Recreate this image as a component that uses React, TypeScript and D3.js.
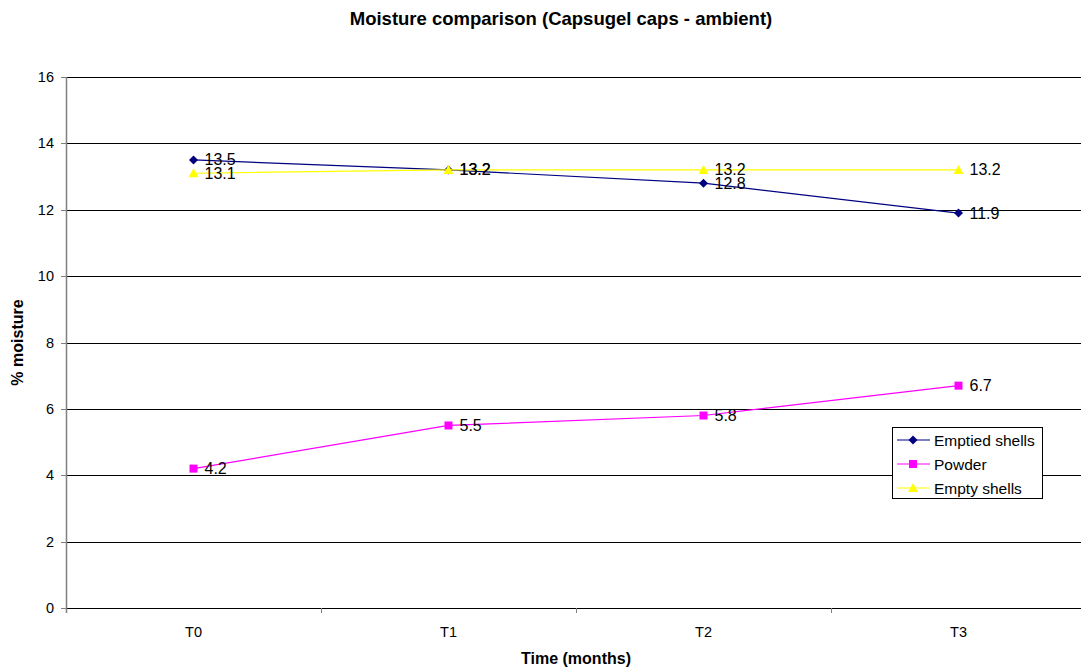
import React from "react";
import * as d3 from "d3";

const categories = ["T0", "T1", "T2", "T3"];
const emptiedShells = [13.5, 13.2, 12.8, 11.9];
const powder = [4.2, 5.5, 5.8, 6.7];
const emptyShells = [13.1, 13.2, 13.2, 13.2];
const yTicks = [0, 2, 4, 6, 8, 10, 12, 14, 16];

const W = 1081;
const H = 671;
const left = 66;
const top = 77;
const bottom = 608;
const band = 255;
const right = left + band * categories.length;

const FONT = "'Liberation Sans', Arial, sans-serif";

type Series = { name: string; values: number[]; color: string; marker: "diamond" | "square" | "triangle" };

const series: Series[] = [
  { name: "Emptied shells", values: emptiedShells, color: "#000080", marker: "diamond" },
  { name: "Powder", values: powder, color: "#FF00FF", marker: "square" },
  { name: "Empty shells", values: emptyShells, color: "#FFFF00", marker: "triangle" },
];

function Marker({ kind, x, y, color }: { kind: Series["marker"]; x: number; y: number; color: string }) {
  if (kind === "diamond") {
    return <path d={`M${x},${y - 4.5}L${x + 4.5},${y}L${x},${y + 4.5}L${x - 4.5},${y}Z`} fill={color} />;
  }
  if (kind === "square") {
    return <rect x={x - 4} y={y - 4} width={8} height={8} fill={color} />;
  }
  return <path d={`M${x},${y - 5}L${x + 5},${y + 4}L${x - 5},${y + 4}Z`} fill={color} />;
}

export default function App() {
  const x = d3.scaleBand<string>().domain(categories).range([left, right]);
  const y = d3.scaleLinear().domain([0, 16]).range([bottom, top]);
  const cx = (c: string) => (x(c) as number) + x.bandwidth() / 2;

  const line = (vals: number[]) =>
    d3
      .line<number>()
      .x((_, i) => cx(categories[i]))
      .y((v) => y(v))(vals) as string;

  const legendX = 892;
  const legendY = 427;

  return (
    <svg
      width={W}
      height={H}
      style={{ position: "absolute", left: 0, top: 0, background: "#fff" }}
      fontFamily={FONT}
    >
      <text x={561} y={25} textAnchor="middle" fontSize={18.5} fontWeight="bold">
        Moisture comparison (Capsugel caps - ambient)
      </text>

      {/* horizontal gridlines */}
      {yTicks.map((t) => (
        <line key={t} x1={left} x2={right} y1={Math.round(y(t)) + 0.5} y2={Math.round(y(t)) + 0.5} stroke="#000" strokeWidth={1} />
      ))}

      {/* y axis */}
      <line x1={left + 0.5} x2={left + 0.5} y1={top} y2={bottom + 5} stroke="#808080" strokeWidth={1.5} />
      {yTicks.map((t) => (
        <g key={"yt" + t}>
          <line x1={left - 5} x2={left} y1={Math.round(y(t)) + 0.5} y2={Math.round(y(t)) + 0.5} stroke="#808080" />
          <text x={left - 12} y={y(t) + 5} textAnchor="end" fontSize={14.5}>
            {t}
          </text>
        </g>
      ))}

      {/* x axis ticks and labels */}
      {categories.map((c, i) => (
        <g key={c}>
          {i > 0 && (
            <line x1={(x(c) as number) + 0.5} x2={(x(c) as number) + 0.5} y1={bottom} y2={bottom + 5} stroke="#808080" />
          )}
          <text x={cx(c)} y={637} textAnchor="middle" fontSize={14.5}>
            {c}
          </text>
        </g>
      ))}

      <text x={576} y={664} textAnchor="middle" fontSize={16} fontWeight="bold">
        Time (months)
      </text>
      <text
        transform={`translate(23,${(top + bottom) / 2}) rotate(-90)`}
        textAnchor="middle"
        fontSize={16}
        fontWeight="bold"
      >
        % moisture
      </text>

      {/* series */}
      {series.map((s) => (
        <g key={s.name}>
          <path d={line(s.values)} fill="none" stroke={s.color} strokeWidth={1.2} />
          {s.values.map((v, i) => (
            <Marker key={i} kind={s.marker} x={cx(categories[i])} y={y(v)} color={s.color} />
          ))}
        </g>
      ))}
      {series.map((s) =>
        s.values.map((v, i) => (
          <text key={s.name + i} x={cx(categories[i]) + 11} y={y(v) + 5.5} fontSize={16}>
            {v.toFixed(1)}
          </text>
        ))
      )}

      {/* legend */}
      <rect x={legendX + 0.5} y={legendY + 0.5} width={150} height={71} fill="#fff" stroke="#000" />
      {series.map((s, i) => {
        const ly = legendY + 13 + i * 24;
        return (
          <g key={"lg" + s.name}>
            <line x1={legendX + 5} x2={legendX + 38} y1={ly} y2={ly} stroke={s.color} strokeWidth={1.2} />
            <Marker kind={s.marker} x={legendX + 21} y={ly} color={s.color} />
            <text x={legendX + 42} y={ly + 5.5} fontSize={15.5}>
              {s.name}
            </text>
          </g>
        );
      })}
    </svg>
  );
}
